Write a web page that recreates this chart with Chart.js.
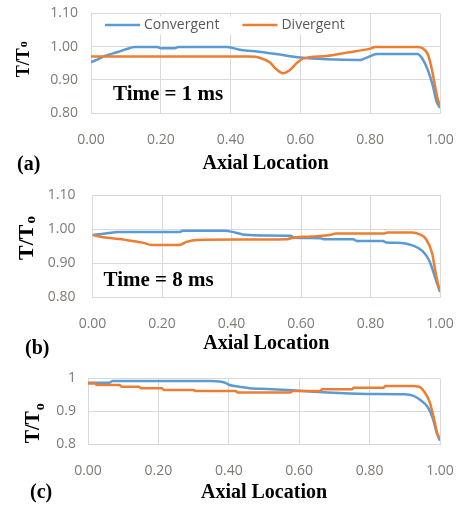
<!DOCTYPE html>
<html>
<head>
<meta charset="utf-8">
<script src="https://cdn.jsdelivr.net/npm/chart.js@4.4.0/dist/chart.umd.min.js"></script>
<style>
  html, body { margin: 0; padding: 0; background: #fff; }
  #wrap { position: relative; width: 458px; height: 510px; overflow: hidden; }
  #wrap canvas { position: absolute; left: 0; }
</style>
</head>
<body>
<div id="wrap">
  <canvas id="chart-a" width="458" height="178" style="top:0px"></canvas>
  <canvas id="chart-b" width="458" height="187" style="top:175px"></canvas>
  <canvas id="chart-c" width="458" height="154" style="top:356px"></canvas>
</div>
<script>
"use strict";

// (a) Time = 1 ms
const A_CONV_X = [0, 0.02, 0.04, 0.077, 0.10, 0.126, 0.19, 0.20, 0.24, 0.25, 0.39, 0.43, 0.48, 0.53, 0.60, 0.675, 0.77, 0.79, 0.82, 0.935, 0.95, 0.965, 0.98, 0.99, 1.0];
const A_CONV_Y = [0.953, 0.962, 0.972, 0.984, 0.992, 0.999, 0.999, 0.995, 0.995, 0.999, 0.999, 0.990, 0.985, 0.978, 0.967, 0.962, 0.960, 0.967, 0.978, 0.978, 0.963, 0.930, 0.880, 0.835, 0.815];
const A_DIV_X  = [0, 0.45, 0.485, 0.513, 0.53, 0.55, 0.57, 0.59, 0.607, 0.675, 0.733, 0.80, 0.815, 0.935, 0.95, 0.966, 0.977, 0.986, 0.994, 1.0];
const A_DIV_Y  = [0.970, 0.970, 0.966, 0.952, 0.933, 0.920, 0.930, 0.951, 0.964, 0.972, 0.982, 0.994, 0.999, 0.999, 0.995, 0.975, 0.930, 0.880, 0.840, 0.822];

// (b) Time = 8 ms
const B_CONV_X = [0, 0.037, 0.075, 0.25, 0.26, 0.38, 0.41, 0.44, 0.50, 0.57, 0.58, 0.655, 0.665, 0.75, 0.76, 0.836, 0.845, 0.89, 0.92, 0.95, 0.97, 0.985, 0.995, 1.0];
const B_CONV_Y = [0.982, 0.987, 0.991, 0.991, 0.995, 0.995, 0.990, 0.983, 0.981, 0.980, 0.974, 0.973, 0.970, 0.970, 0.965, 0.965, 0.960, 0.959, 0.952, 0.935, 0.905, 0.860, 0.830, 0.815];
const B_DIV_X  = [0, 0.037, 0.095, 0.144, 0.17, 0.25, 0.27, 0.30, 0.56, 0.58, 0.63, 0.69, 0.70, 0.84, 0.85, 0.92, 0.94, 0.96, 0.977, 0.986, 0.995, 1.0];
const B_DIV_Y  = [0.982, 0.975, 0.968, 0.960, 0.953, 0.953, 0.962, 0.968, 0.970, 0.975, 0.978, 0.984, 0.987, 0.987, 0.990, 0.990, 0.985, 0.970, 0.930, 0.880, 0.835, 0.820];

// (c)
const C_CONV_X = [0, 0.06, 0.07, 0.35, 0.39, 0.40, 0.43, 0.46, 0.51, 0.58, 0.68, 0.79, 0.90, 0.925, 0.946, 0.965, 0.98, 0.99, 1.0];
const C_CONV_Y = [0.987, 0.987, 0.992, 0.992, 0.987, 0.981, 0.975, 0.970, 0.968, 0.964, 0.957, 0.953, 0.952, 0.947, 0.933, 0.913, 0.877, 0.836, 0.810];
const C_DIV_X  = [0, 0.02, 0.025, 0.09, 0.095, 0.145, 0.15, 0.21, 0.215, 0.30, 0.305, 0.42, 0.425, 0.575, 0.58, 0.66, 0.665, 0.75, 0.755, 0.84, 0.845, 0.92, 0.94, 0.955, 0.97, 0.983, 0.994, 1.0];
const C_DIV_Y  = [0.985, 0.985, 0.980, 0.980, 0.975, 0.975, 0.970, 0.970, 0.965, 0.965, 0.962, 0.962, 0.957, 0.957, 0.962, 0.962, 0.967, 0.967, 0.972, 0.972, 0.977, 0.977, 0.975, 0.960, 0.930, 0.877, 0.826, 0.820];

const SERIES_NAMES = ["Convergent", "Divergent"];
const X_TICKS    = [0, 0.2, 0.4, 0.6, 0.8, 1.0];
const Y_TICKS_AB = [0.8, 0.9, 1.0, 1.1];
const Y_TICKS_C  = [0.8, 0.9, 1.0];

const C = {
  blue:   "#5b9bd5",
  orange: "#ed7d31",
  grid:   "#d9d9d9",
  tick:   "#7f7a74",
  legend: "#595959",
  ink:    "#000000",
};
const SANS  = "'Open Sans', 'Liberation Sans', sans-serif";
const SERIF = "'Liberation Serif', 'DejaVu Serif', serif";

const toPoints = (xs, ys) => xs.map((x, i) => ({ x, y: ys[i] }));

// Legend drawn inside the plot (Excel style), on a white box over the grid
const insideLegend = {
  id: "insideLegend",
  afterDraw(chart, args, opts) {
    if (!opts.show) return;
    const { ctx, chartArea } = chart;
    const y = chartArea.top + 11.5;
    ctx.save();
    ctx.font = `14px ${SANS}`;
    ctx.textBaseline = "middle";
    let x = chartArea.left + 14;
    const widths = chart.data.datasets.map((ds) => ctx.measureText(ds.label).width);
    const total = widths.reduce((a, w) => a + w + 39 + 23, 0) - 23;
    ctx.fillStyle = "#fff";
    ctx.fillRect(x - 6, chartArea.top + 3, total + 14, 18);
    chart.data.datasets.forEach((ds, i) => {
      ctx.strokeStyle = ds.borderColor;
      ctx.lineWidth = 2.5;
      ctx.beginPath();
      ctx.moveTo(x, y);
      ctx.lineTo(x + 35, y);
      ctx.stroke();
      x += 39;
      ctx.fillStyle = C.legend;
      ctx.fillText(ds.label, x, y + 0.5);
      x += widths[i] + 23;
    });
    ctx.restore();
  },
};

// T/To axis title, panel letter and time stamp
const panelText = {
  id: "panelText",
  afterDraw(chart, args, o) {
    const { ctx, chartArea } = chart;
    ctx.save();
    ctx.fillStyle = C.ink;

    // rotated T/To with subscript o
    const cy = (chartArea.top + chartArea.bottom) / 2 + o.yTitle.dy;
    ctx.translate(o.yTitle.x, cy);
    ctx.rotate(-Math.PI / 2);
    ctx.font = `bold ${o.yTitle.size}px ${SERIF}`;
    const w1 = ctx.measureText("T/T").width;
    ctx.font = `bold ${Math.round(o.yTitle.size * 0.68)}px ${SERIF}`;
    const w2 = ctx.measureText("o").width;
    const start = -(w1 + w2 + 1) / 2;
    const base = o.yTitle.size * 0.33;
    ctx.textBaseline = "alphabetic";
    ctx.font = `bold ${o.yTitle.size}px ${SERIF}`;
    ctx.fillText("T/T", start, base);
    ctx.font = `bold ${Math.round(o.yTitle.size * 0.68)}px ${SERIF}`;
    ctx.fillText("o", start + w1 + 1, base + o.yTitle.sub);
    ctx.setTransform(1, 0, 0, 1, 0, 0);

    // (a) / (b) / (c)
    ctx.font = `bold 20px ${SERIF}`;
    ctx.textBaseline = "middle";
    ctx.fillText(o.letter.text, o.letter.x, o.letter.y);

    if (o.time) {
      ctx.font = `bold 21px ${SERIF}`;
      ctx.textBaseline = "alphabetic";
      ctx.fillText(o.time.text, chartArea.left + o.time.dx, chartArea.bottom - o.time.up);
    }
    ctx.restore();
  },
};

const PANELS = [
  {
    canvas: "chart-a",
    conv: toPoints(A_CONV_X, A_CONV_Y),
    div: toPoints(A_DIV_X, A_DIV_Y),
    yTicks: Y_TICKS_AB, yMax: 1.1, yFmt: (v) => v.toFixed(2),
    pad: { top: 13.5, right: 18 }, yWidth: 91, xHeight: 65, yTickPad: 13, titlePadB: 1.7,
    legend: true,
    yTitle: { x: 23, dy: -4, size: 18, sub: -2 },
    letter: { text: "(a)", x: 17, y: 165 },
    time: { text: "Time = 1 ms", dx: 22, up: 13 },
  },
  {
    canvas: "chart-b",
    conv: toPoints(B_CONV_X, B_CONV_Y),
    div: toPoints(B_DIV_X, B_DIV_Y),
    yTicks: Y_TICKS_AB, yMax: 1.1, yFmt: (v) => v.toFixed(2),
    pad: { top: 20, right: 18 }, yWidth: 92.5, xHeight: 65, yTickPad: 17, titlePadB: 6.2,
    legend: false,
    yTitle: { x: 26, dy: -8, size: 22, sub: 2 },
    letter: { text: "(b)", x: 25, y: 174 },
    time: { text: "Time = 8 ms", dx: 11, up: 11 },
  },
  {
    canvas: "chart-c",
    conv: toPoints(C_CONV_X, C_CONV_Y),
    div: toPoints(C_DIV_X, C_DIV_Y),
    yTicks: Y_TICKS_C, yMax: 1.0, yFmt: (v) => String(+v.toFixed(1)),
    pad: { top: 22.5, right: 18 }, yWidth: 88, xHeight: 66, yTickPad: 12, titlePadB: 4.7,
    legend: false,
    yTitle: { x: 32, dy: 12, size: 20, sub: 5 },
    letter: { text: "(c)", x: 30, y: 137 },
    time: null,
  },
];

function makePanel(p) {
  const canvas = document.getElementById(p.canvas);
  new Chart(canvas, {
    type: "line",
    data: {
      datasets: [
        { label: SERIES_NAMES[0], data: p.conv, borderColor: C.blue, order: 2 },
        { label: SERIES_NAMES[1], data: p.div, borderColor: C.orange, order: 1 },
      ],
    },
    options: {
      responsive: false,
      animation: false,
      elements: {
        point: { radius: 0 },
        line: { borderWidth: 2.5, tension: 0.3, cubicInterpolationMode: "monotone", fill: false },
      },
      layout: { padding: { top: p.pad.top, right: p.pad.right, left: 0, bottom: 0 } },
      plugins: {
        legend: { display: false },
        tooltip: { enabled: false },
        insideLegend: { show: p.legend },
        panelText: { yTitle: p.yTitle, letter: p.letter, time: p.time },
      },
      scales: {
        x: {
          type: "linear",
          min: 0,
          max: 1,
          afterBuildTicks: (s) => { s.ticks = X_TICKS.map((v) => ({ value: v })); },
          // fixed plot box: no extra room for the edge labels
          afterFit: (s) => { s.height = p.xHeight; s.paddingLeft = 0; s.paddingRight = 0; },
          grid: { color: C.grid, lineWidth: 1, drawTicks: false },
          border: { color: C.grid, width: 1 },
          ticks: {
            padding: 19,
            color: C.tick,
            font: { family: SANS, size: 14 },
            maxRotation: 0,
            callback: (v) => Number(v).toFixed(2),
          },
          title: {
            display: true,
            text: "Axial Location",
            color: C.ink,
            font: { family: SERIF, size: 20, weight: "bold" },
            padding: { top: 0, bottom: p.titlePadB },
          },
        },
        y: {
          min: 0.8,
          max: p.yMax,
          afterBuildTicks: (s) => { s.ticks = p.yTicks.map((v) => ({ value: v })); },
          afterFit: (s) => { s.width = p.yWidth; s.paddingTop = 0; s.paddingBottom = 0; },
          grid: { color: C.grid, lineWidth: 1, drawTicks: false },
          border: { color: C.grid, width: 1 },
          ticks: {
            padding: p.yTickPad,
            color: C.tick,
            font: { family: SANS, size: 14 },
            callback: (v) => p.yFmt(Number(v)),
          },
        },
      },
    },
    plugins: [insideLegend, panelText],
  });
}

PANELS.forEach(makePanel);
</script>
</body>
</html>
